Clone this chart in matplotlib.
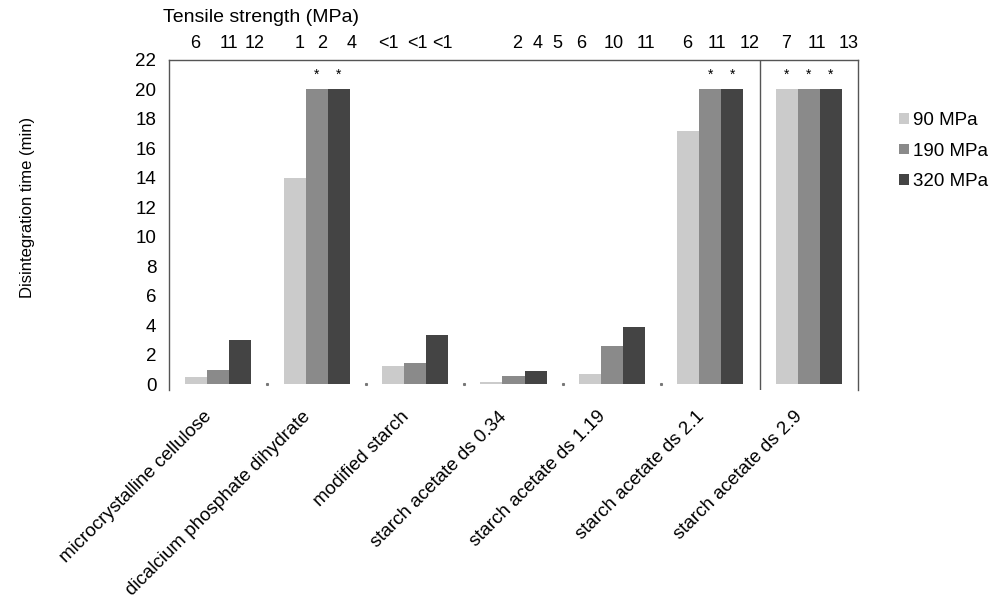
import matplotlib.pyplot as plt
import matplotlib.transforms as mtransforms
import numpy as np

plt.rcParams['font.family'] = ['Liberation Sans', 'DejaVu Sans']

materials = ['microcrystalline cellulose', 'dicalcium phosphate dihydrate',
             'modified starch', 'starch acetate ds 0.34', 'starch acetate ds 1.19',
             'starch acetate ds 2.1', 'starch acetate ds 2.9']
pressures = ['90 MPa', '190 MPa', '320 MPa']

# disintegration time (min) per compression pressure
t90 = [0.45, 14.0, 1.2, 0.12, 0.7, 17.2, 20.0]
t190 = [0.95, 20.0, 1.4, 0.55, 2.6, 20.0, 20.0]
t320 = [3.0, 20.0, 3.3, 0.88, 3.9, 20.0, 20.0]

# tensile strength labels written along the top, left to right
tensile = ['6', '11', '12', '1', '2', '4', '<1', '<1', '<1', '2', '4', '5',
           '6', '10', '11', '6', '11', '12', '7', '11', '13']

# tablets that did not disintegrate within 20 min
star90 = [0, 0, 0, 0, 0, 0, 1]
star190 = [0, 1, 0, 0, 0, 1, 1]
star320 = [0, 1, 0, 0, 0, 1, 1]

colors = ['#cbcbcb', '#8a8a8a', '#444444']
fs = 13.5

W, H = 992, 601
ax_l, ax_r, ax_t, ax_b = 169, 858, 60, 390
fig = plt.figure(figsize=(W / 100, H / 100), dpi=100)
ax = fig.add_axes([ax_l / W, 1 - ax_b / H, (ax_r - ax_l) / W, (ax_b - ax_t) / H])

x = np.arange(len(materials))
w = 0.224
series = [(t90, star90), (t190, star190), (t320, star320)]
for i, (vals, stars) in enumerate(series):
    xs = x + (i - 1) * w
    ax.bar(xs, vals, width=w, color=colors[i], label=pressures[i], linewidth=0)
    for xi, v, s in zip(xs, vals, stars):
        if s:
            ax.text(xi, v + 1.0, '*', ha='center', va='center', fontsize=10)

ax.set_xlim(-0.5, len(materials) - 0.5)
ax.set_ylim(-0.4, 22)

# the tensile row is a typed line of text, so its spacing is not tied to the bars
label_px = [195, 229, 255, 300, 322, 352, 388, 417, 442, 517, 538, 557,
            581, 614, 646, 687, 717, 750, 786, 817, 849]
unit = (ax_r - ax_l) / len(materials)
for px, lab in zip(label_px, tensile):
    ax.text((px - ax_l) / unit - 0.5, 1.05, lab, transform=ax.get_xaxis_transform(),
            ha='center', va='center', fontsize=13)

ax.set_yticks(np.arange(0, 23, 2))
ax.set_yticks([2, 8, 12, 22], minor=True)
ax.tick_params(axis='y', which='major', length=0, pad=9, labelsize=fs)
ax.tick_params(axis='y', which='minor', direction='inout', length=7,
               width=0.8, color='#555555')
ax.set_xticks(x)
ax.set_xticklabels(materials, rotation=45, ha='right', va='top', fontsize=fs)
ax.tick_params(axis='x', length=0, pad=13)
shift = mtransforms.ScaledTranslation(-3 / 100, 0, fig.dpi_scale_trans)
for lab in ax.get_xticklabels():
    lab.set_transform(lab.get_transform() + shift)

for side in ['left', 'top', 'right']:
    ax.spines[side].set_color('#555555')
    ax.spines[side].set_linewidth(1)
ax.spines['bottom'].set_visible(False)
ax.axvline(len(materials) - 1.5, color='#555555', lw=1)

# small marks between groups on the baseline
bounds = x[:-1] + 0.5
ax.plot(bounds[:-1], np.zeros(len(bounds) - 1), ls='none', marker='s',
        ms=1.2, color='#777777', clip_on=False)

ax.legend(loc='center left', bbox_to_anchor=(890 / W, 1 - 151 / H),
          bbox_transform=fig.transFigure, frameon=False, fontsize=13.5,
          handlelength=0.5, handleheight=0.5, handletextpad=0.25,
          labelspacing=0.72, borderpad=0)

fig.text(163 / W, 1 - 18 / H, 'Tensile strength (MPa)', ha='left',
         va='center', fontsize=14)
fig.text(28 / W, 1 - 207 / H, 'Disintegration time (min)', rotation=90,
         ha='center', va='center', fontsize=12)

fig.savefig('out.png', dpi=100)
